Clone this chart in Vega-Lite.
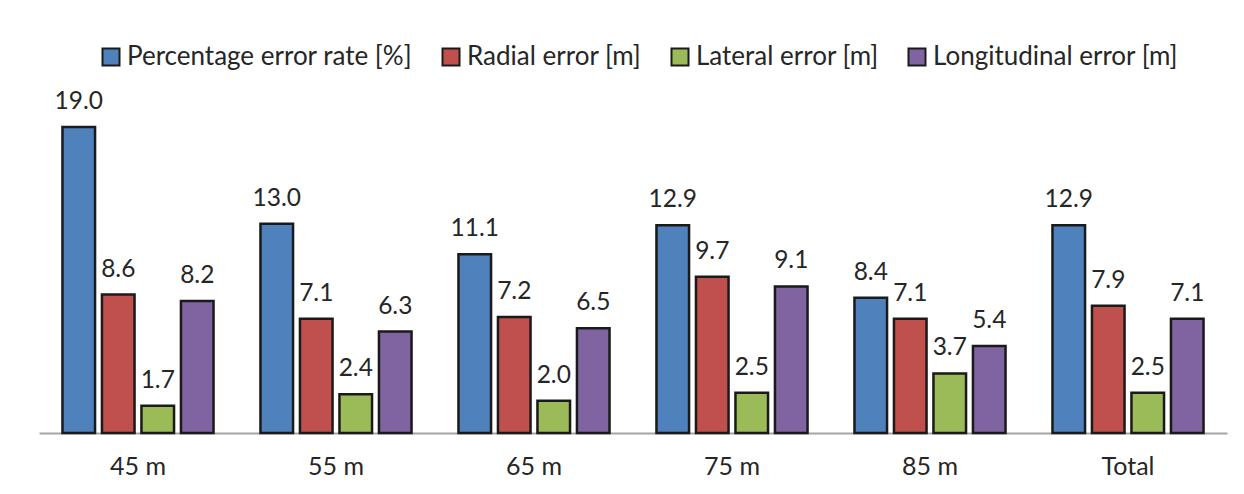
{
  "$schema": "https://vega.github.io/schema/vega-lite/v6.json",
  "width": 1188,
  "height": 322,
  "autosize": "none",
  "padding": {"left": 39, "top": 111, "right": 17, "bottom": 61},
  "background": "white",
  "config": {
    "view": {"stroke": null},
    "font": "Lato",
    "text": {"font": "Lato"}
  },
  "data": {
    "values": [
      {"group": "45 m", "series": "Percentage error rate [%]", "value": 19.0},
      {"group": "45 m", "series": "Radial error [m]", "value": 8.6},
      {"group": "45 m", "series": "Lateral error [m]", "value": 1.7},
      {"group": "45 m", "series": "Longitudinal error [m]", "value": 8.2},
      {"group": "55 m", "series": "Percentage error rate [%]", "value": 13.0},
      {"group": "55 m", "series": "Radial error [m]", "value": 7.1},
      {"group": "55 m", "series": "Lateral error [m]", "value": 2.4},
      {"group": "55 m", "series": "Longitudinal error [m]", "value": 6.3},
      {"group": "65 m", "series": "Percentage error rate [%]", "value": 11.1},
      {"group": "65 m", "series": "Radial error [m]", "value": 7.2},
      {"group": "65 m", "series": "Lateral error [m]", "value": 2.0},
      {"group": "65 m", "series": "Longitudinal error [m]", "value": 6.5},
      {"group": "75 m", "series": "Percentage error rate [%]", "value": 12.9},
      {"group": "75 m", "series": "Radial error [m]", "value": 9.7},
      {"group": "75 m", "series": "Lateral error [m]", "value": 2.5},
      {"group": "75 m", "series": "Longitudinal error [m]", "value": 9.1},
      {"group": "85 m", "series": "Percentage error rate [%]", "value": 8.4},
      {"group": "85 m", "series": "Radial error [m]", "value": 7.1},
      {"group": "85 m", "series": "Lateral error [m]", "value": 3.7},
      {"group": "85 m", "series": "Longitudinal error [m]", "value": 5.4},
      {"group": "Total", "series": "Percentage error rate [%]", "value": 12.9},
      {"group": "Total", "series": "Radial error [m]", "value": 7.9},
      {"group": "Total", "series": "Lateral error [m]", "value": 2.5},
      {"group": "Total", "series": "Longitudinal error [m]", "value": 7.1}
    ]
  },
  "encoding": {
    "x": {
      "field": "group",
      "type": "nominal",
      "sort": null,
      "title": null,
      "scale": {"paddingInner": 0.237, "paddingOuter": 0.1185},
      "axis": {
        "labelAngle": 0,
        "ticks": false,
        "domainColor": "#a6a6a6",
        "domainWidth": 2,
        "labelFontSize": 25,
        "labelFont": "Lato",
        "labelColor": "#262626",
        "labelPadding": 21
      }
    },
    "xOffset": {
      "field": "series",
      "type": "nominal",
      "sort": null,
      "scale": {"paddingInner": 0.175, "paddingOuter": 0}
    },
    "y": {
      "field": "value",
      "type": "quantitative",
      "scale": {"domain": [0, 20], "nice": false},
      "axis": null
    }
  },
  "layer": [
    {
      "mark": {"type": "bar", "stroke": "#1a1a1a", "strokeWidth": 2.5},
      "encoding": {
        "color": {
          "field": "series",
          "type": "nominal",
          "sort": null,
          "scale": {
            "domain": ["Percentage error rate [%]", "Radial error [m]", "Lateral error [m]", "Longitudinal error [m]"],
            "range": ["#4f81bd", "#c0504d", "#9bbb59", "#8064a2"]
          },
          "legend": {
            "title": null,
            "orient": "none",
            "legendX": 59,
            "legendY": -67,
            "direction": "horizontal",
            "symbolType": "square",
            "symbolSize": 289,
            "symbolStrokeColor": "#1a1a1a",
            "symbolStrokeWidth": 2,
            "symbolOpacity": 1,
            "labelFontSize": 26,
            "labelFont": "Lato",
            "labelColor": "#262626",
            "labelLimit": 400,
            "labelOffset": 3,
            "columnPadding": 25
          }
        }
      }
    },
    {
      "mark": {"type": "text", "baseline": "alphabetic", "dy": -18, "fontSize": 24.5, "font": "Lato", "color": "#262626"},
      "encoding": {
        "text": {"field": "value", "type": "quantitative", "format": ".1f"}
      }
    }
  ]
}
